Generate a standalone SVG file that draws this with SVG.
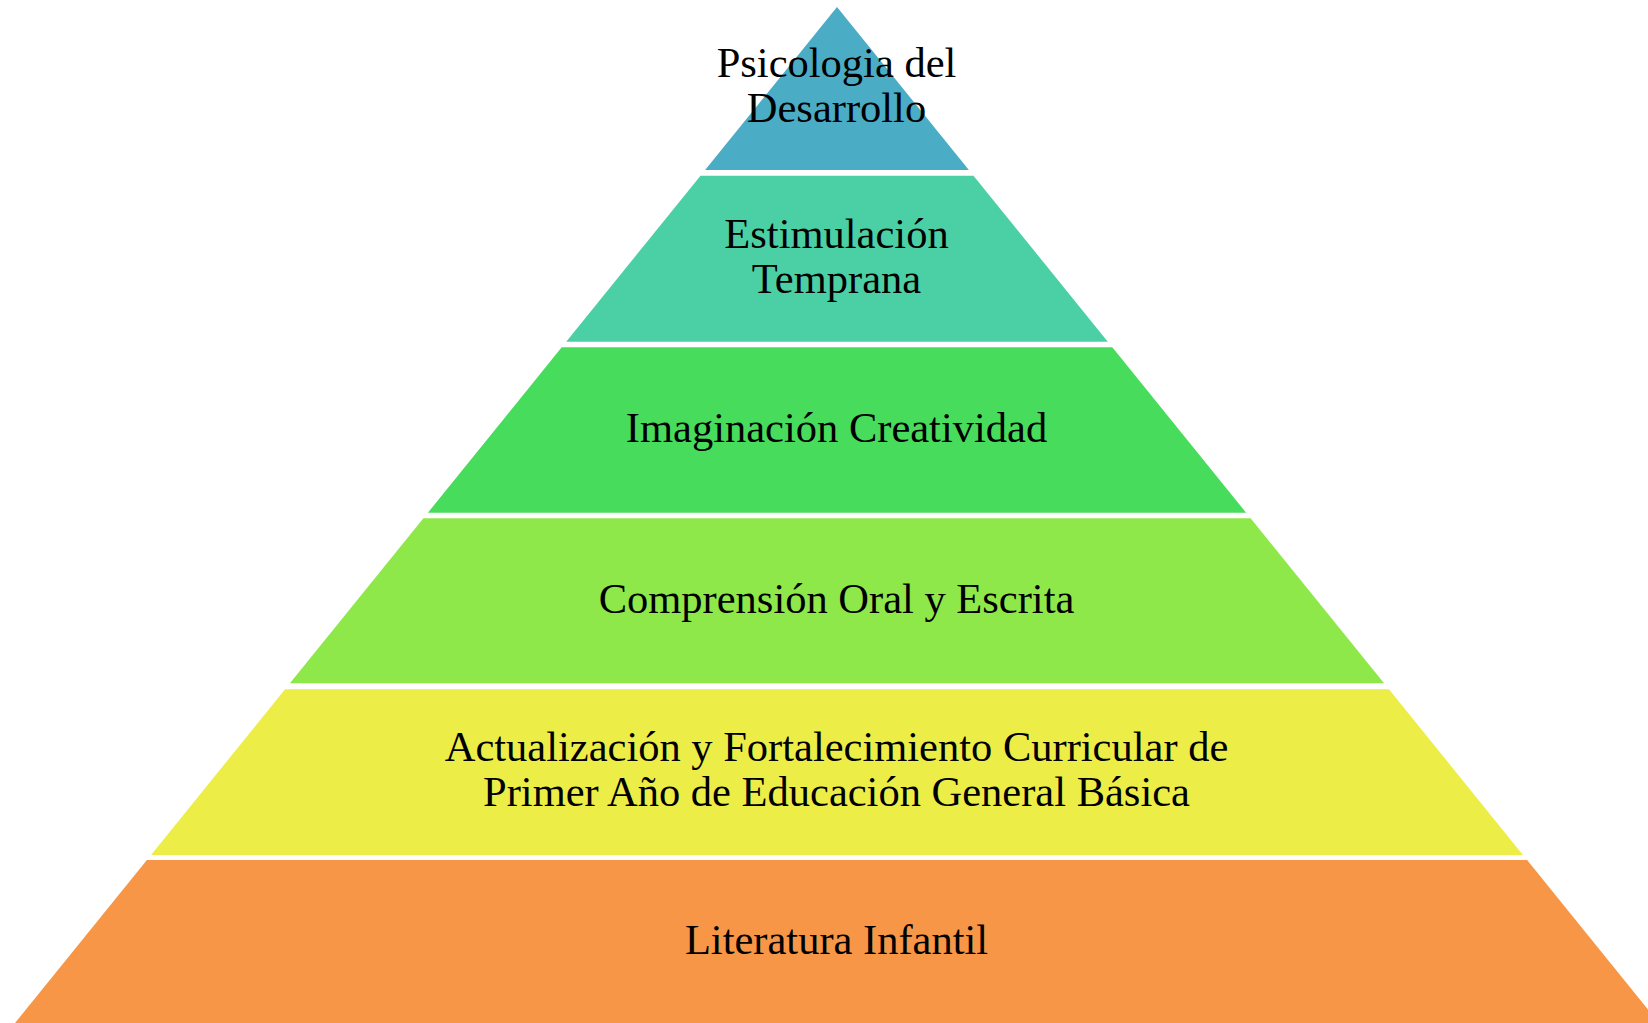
<svg xmlns="http://www.w3.org/2000/svg" width="1648" height="1023" viewBox="0 0 1648 1023">
  <style>
    .lbl { font-family: "Liberation Serif", "Times New Roman", serif; font-size: 42.5px; fill: #000000; text-anchor: middle; }
  </style>
  <rect x="0" y="0" width="1648" height="1023" fill="#ffffff"/>
  <g id="level1">
    <polygon points="837,7 968.9,170 705.1,170" fill="#4BACC6"/>
    <text class="lbl" x="836.5" y="76.7">Psicologia del</text>
    <text class="lbl" x="836.5" y="121.7">Desarrollo</text>
  </g>
  <g id="level2">
    <polygon points="700.5,175.7 973.5,175.7 1107.8,341.7 566.2,341.7" fill="#4BD0A5"/>
    <text class="lbl" x="836.5" y="248">Estimulación</text>
    <text class="lbl" x="836.5" y="293">Temprana</text>
  </g>
  <g id="level3">
    <polygon points="561.7,347.3 1112.3,347.3 1246.1,512.7 427.9,512.7" fill="#47DC5B"/>
    <text class="lbl" x="836.5" y="441.7">Imaginación Creatividad</text>
  </g>
  <g id="level4">
    <polygon points="423.4,518.3 1250.6,518.3 1384.1,683.3 289.9,683.3" fill="#8FE849"/>
    <text class="lbl" x="836.5" y="612.7">Comprensión Oral y Escrita</text>
  </g>
  <g id="level5">
    <polygon points="285,689.3 1389,689.3 1523,855 151,855" fill="#ECEE47"/>
    <text class="lbl" x="836.5" y="761.3">Actualización y Fortalecimiento Curricular de</text>
    <text class="lbl" x="836.5" y="806.3">Primer Año de Educación General Básica</text>
  </g>
  <g id="level6">
    <polygon points="146.9,860 1527.1,860 1661,1025.5 13,1025.5" fill="#F79646"/>
    <text class="lbl" x="836.5" y="954.3">Literatura Infantil</text>
  </g>
  <g id="connectors"/>
</svg>
